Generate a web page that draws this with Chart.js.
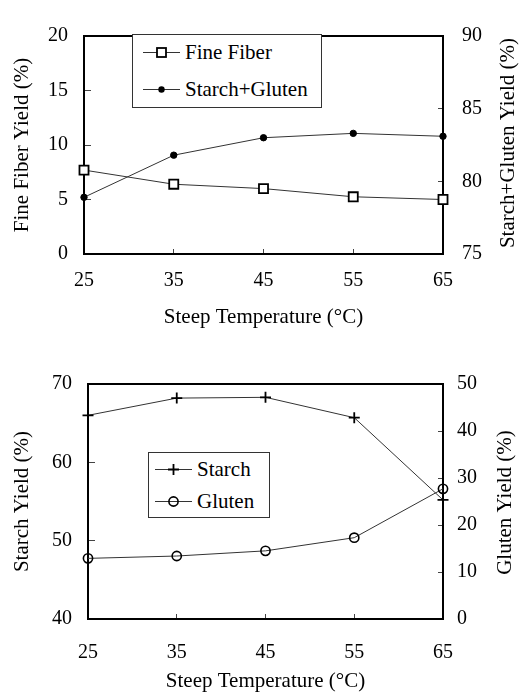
<!DOCTYPE html>
<html><head><meta charset="utf-8">
<script src="https://cdn.jsdelivr.net/npm/chart.js@4.4.1/dist/chart.umd.min.js"></script>
<style>
html,body{margin:0;padding:0;background:#fff;}
#wrap{position:relative;width:521px;height:694px;overflow:hidden;font-family:"Liberation Serif","Times New Roman",serif;}
canvas{position:absolute;left:0;}
.legend{position:absolute;box-sizing:border-box;border:1px solid #333;background:#fff;color:#000;font-size:21px;}
.legend svg{position:absolute;}
.legend span{position:absolute;white-space:nowrap;line-height:24px;}
</style>
</head><body>
<div id="wrap">
  <canvas id="c1" width="521" height="340" style="top:0"></canvas>
  <canvas id="c2" width="521" height="354" style="top:340px"></canvas>
  <div class="legend" id="lg1" style="left:132px;top:34px;width:190px;height:74px;"></div>
  <div class="legend" id="lg2" style="left:148px;top:452px;width:122px;height:66px;"></div>
</div>
<script>
// ---- data ----
const temperatures = [25, 35, 45, 55, 65];
const fineFiber = [7.7, 6.4, 6.0, 5.25, 5.0];
const starchGluten = [78.9, 81.8, 83.0, 83.3, 83.1];
const starch = [66.0, 68.2, 68.3, 65.7, 55.2];
const gluten = [12.9, 13.4, 14.5, 17.3, 27.7];
const xTickLabels = [25, 35, 45, 55, 65];
const fiberTicks = [0, 5, 10, 15, 20];
const sgTicks = [75, 80, 85, 90];
const starchTicks = [40, 50, 60, 70];
const glutenTicks = [0, 10, 20, 30, 40, 50];
const xTitle = 'Steep Temperature (\u00B0C)';

const FONT = '"Liberation Serif", "Times New Roman", serif';

const framePlugin = {
  id: 'frame',
  beforeDatasetsDraw(chart) {
    const {ctx, chartArea: a} = chart;
    ctx.save();
    ctx.strokeStyle = '#000';
    ctx.lineWidth = 2;
    ctx.strokeRect(a.left, a.top, a.right - a.left, a.bottom - a.top);
    ctx.restore();
  }
};

// right-axis title reading bottom-to-top, like the reference
const rightTitlePlugin = {
  id: 'rightTitle',
  afterDraw(chart, args, opts) {
    const s = chart.scales.y1;
    if (!s || !opts.text) return;
    const {ctx} = chart;
    ctx.save();
    ctx.translate(opts.x, (s.top + s.bottom) / 2 + (opts.dy || 0));
    ctx.rotate(-Math.PI / 2);
    ctx.font = '21px ' + FONT;
    ctx.fillStyle = '#000';
    ctx.textAlign = 'center';
    ctx.textBaseline = 'middle';
    ctx.fillText(opts.text, 0, 0);
    ctx.restore();
  }
};

function pts(ys) { return temperatures.map((t, i) => ({x: t, y: ys[i]})); }
function fixedTicks(arr) { return s => { s.ticks = arr.map(v => ({value: v})); }; }

function yAxis(pos, min, max, ticks, title, width, tpad, lpad, tl) {
  return {
    type: 'linear', position: pos, min, max,
    afterBuildTicks: fixedTicks(ticks),
    afterFit: s => { s.width = width; },
    border: {display: false},
    grid: {drawOnChartArea: false, tickLength: -tl, color: '#444', lineWidth: 1},
    ticks: {color: '#000', font: {family: FONT, size: 20}, padding: lpad + tl},
    title: {display: !!title, text: title, color: '#000', font: {family: FONT, size: 21}, padding: tpad}
  };
}
function xAxis(height, lpad, tpad) {
  return {
    type: 'linear', min: 25, max: 65,
    afterBuildTicks: fixedTicks(xTickLabels),
    afterFit: s => { s.height = height; },
    border: {display: false},
    grid: {drawOnChartArea: false, tickLength: -5, color: '#444', lineWidth: 1},
    ticks: {color: '#000', font: {family: FONT, size: 20}, padding: lpad + 5},
    title: {display: true, text: xTitle, color: '#000', font: {family: FONT, size: 21}, padding: tpad}
  };
}

function opts(padTop, scales, rt) {
  return {
    responsive: false, animation: false,
    layout: {padding: {top: padTop, left: 0, right: 0, bottom: 0}},
    plugins: {legend: {display: false}, tooltip: {enabled: false}, rightTitle: rt},
    elements: {line: {tension: 0}},
    scales
  };
}

new Chart(document.getElementById('c1'), {
  type: 'line',
  data: {datasets: [
    {label: 'Fine Fiber', data: pts(fineFiber), yAxisID: 'y', borderColor: '#333', borderWidth: 1,
     pointStyle: 'rect', pointRadius: 6.4, pointBorderWidth: 1.8, pointBackgroundColor: '#fff', pointBorderColor: '#000', clip: false},
    {label: 'Starch+Gluten', data: pts(starchGluten), yAxisID: 'y1', borderColor: '#333', borderWidth: 1,
     pointStyle: 'circle', pointRadius: 3.2, pointBorderWidth: 1, pointBackgroundColor: '#000', pointBorderColor: '#000', clip: false}
  ]},
  options: opts(23, {
    x: xAxis(86, 15, 10),
    y: yAxis('left', 0, 20, fiberTicks, 'Fine Fiber Yield (%)', 84, 10, 16, 7),
    y1: yAxis('right', 75, 90, sgTicks, '', 78, 1, 19, 5)
  }, {text: 'Starch+Gluten Yield (%)', x: 508, dy: -2}),
  plugins: [framePlugin, rightTitlePlugin]
});

new Chart(document.getElementById('c2'), {
  type: 'line',
  data: {datasets: [
    {label: 'Starch', data: pts(starch), yAxisID: 'y', borderColor: '#333', borderWidth: 1,
     pointStyle: 'cross', pointRadius: 5.5, pointBorderWidth: 1.8, pointBorderColor: '#000', clip: false},
    {label: 'Gluten', data: pts(gluten), yAxisID: 'y1', borderColor: '#333', borderWidth: 1,
     pointStyle: 'circle', pointRadius: 4.6, pointBorderWidth: 1.6, pointBackgroundColor: 'rgba(255,255,255,0)', pointBorderColor: '#000', clip: false}
  ]},
  options: opts(44, {
    x: xAxis(75, 22, 0),
    y: yAxis('left', 40, 70, starchTicks, 'Starch Yield (%)', 88, 10, 16, 7),
    y1: yAxis('right', 0, 50, glutenTicks, '', 78, 4, 14, 5)
  }, {text: 'Gluten Yield (%)', x: 505, dy: 1}),
  plugins: [framePlugin, rightTitlePlugin]
});

// ---- HTML legends ----
function marker(type) {
  let m = '';
  if (type === 'rect') m = '<rect x="14" y="7" width="9" height="9" fill="#fff" stroke="#000" stroke-width="1.8"/>';
  if (type === 'dot') m = '<circle cx="18.5" cy="11.5" r="3.2" fill="#000"/>';
  if (type === 'cross') m = '<path d="M18.5 6V17M13 11.5H24" stroke="#000" stroke-width="1.8"/>';
  if (type === 'circle') m = '<circle cx="18.5" cy="11.5" r="4.6" fill="none" stroke="#000" stroke-width="1.6"/>';
  return '<line x1="0" y1="11.5" x2="37" y2="11.5" stroke="#333" stroke-width="1"/>' + m;
}
function buildLegend(id, items, lineX, textX) {
  const el = document.getElementById(id);
  items.forEach(it => {
    el.insertAdjacentHTML('beforeend',
      `<svg width="37" height="23" style="left:${lineX}px;top:${it.cy - 12}px">${marker(it.type)}</svg>` +
      `<span style="left:${textX}px;top:${it.cy - 13}px">${it.label}</span>`);
  });
}
buildLegend('lg1', [{label: 'Fine Fiber', type: 'rect', cy: 18}, {label: 'Starch+Gluten', type: 'dot', cy: 55}], 10, 52);
buildLegend('lg2', [{label: 'Starch', type: 'cross', cy: 17}, {label: 'Gluten', type: 'circle', cy: 49}], 6, 48);
</script>
</body></html>
